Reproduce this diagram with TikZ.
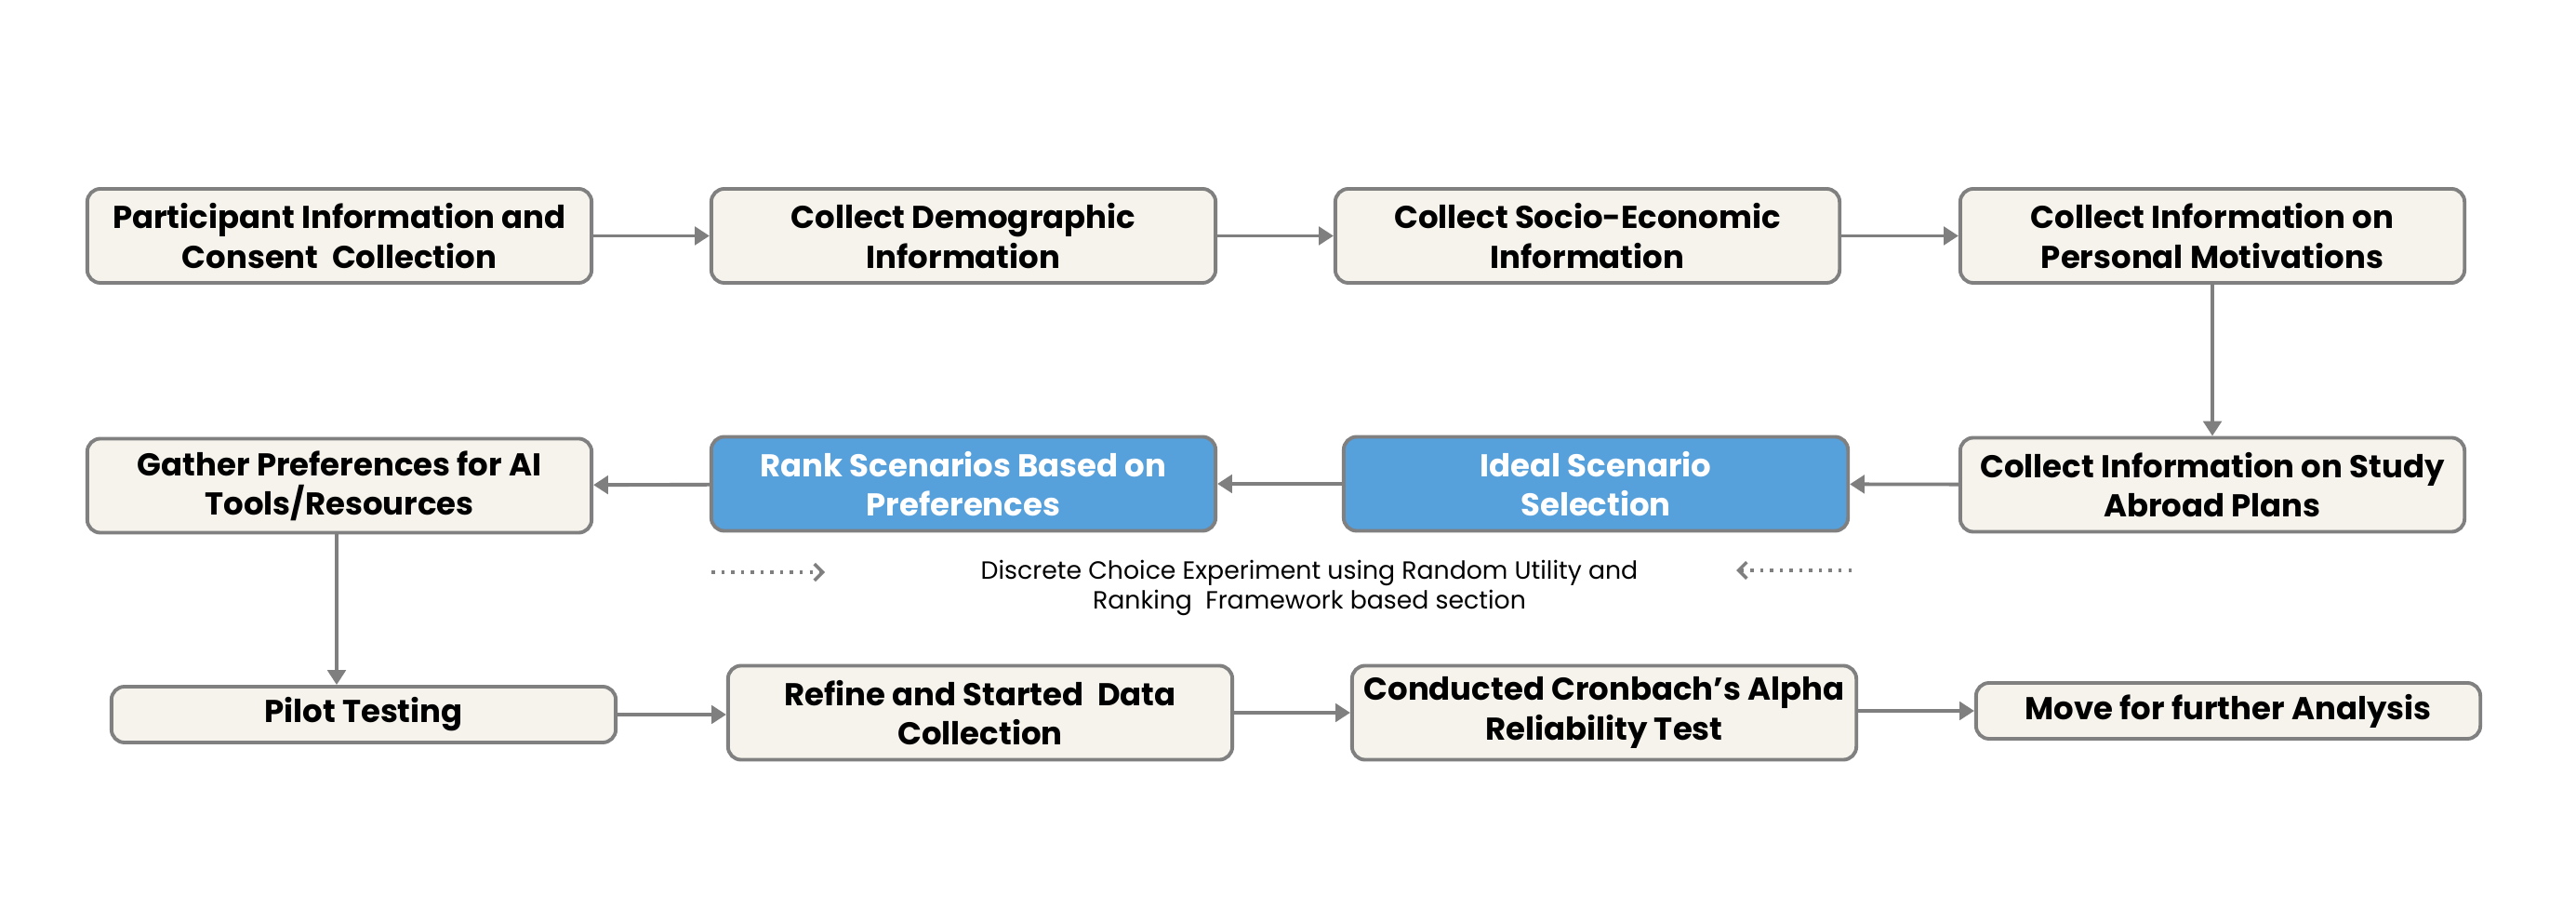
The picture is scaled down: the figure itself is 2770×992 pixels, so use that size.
\documentclass[tikz,border=0pt]{standalone}
\usepackage{fontspec}
\setmainfont{Poppins}
\usetikzlibrary{arrows.meta,positioning}
\definecolor{boxfill}{HTML}{F5F3EC}
\definecolor{boxline}{HTML}{808080}
\definecolor{bluefill}{HTML}{56A0DC}
\definecolor{arrowgray}{HTML}{7F7F7F}
\tikzset{
  stepbox/.style={draw=boxline, fill=boxfill, line width=1.1pt, rounded corners=4pt,
    minimum width=5.42cm, minimum height=1.01cm, align=center, inner sep=2pt,
    font=\fontsize{9.65}{12}\selectfont\bfseries, text=black},
  shortbox/.style={stepbox, minimum height=0.6cm},
  bluebox/.style={stepbox, fill=bluefill, text=white},
  flow/.style={draw=arrowgray, line width=1.1pt, -{Triangle[length=4.5pt,width=5.5pt]}},
  dotflow/.style={draw=arrowgray, line width=1pt, dotted, -{Straight Barb[length=2.5pt,width=5pt]}},
  note/.style={font=\fontsize{7.6}{9.2}\selectfont, align=center, text=black}
}
\begin{document}
\begin{tikzpicture}[x=0.01cm,y=-0.01cm]
\useasboundingbox[fill=white] (0,0) rectangle (2770,992);
% row 1
\node[stepbox] (b1) at (365,253.5) {Participant Information and\\Consent\ \ Collection};
\node[stepbox] (b2) at (1036,253.5) {Collect Demographic\\Information};
\node[stepbox] (b3) at (1707,253.5) {Collect Socio-Economic\\Information};
\node[stepbox] (b4) at (2379,253.5) {Collect Information on\\Personal Motivations};
% row 2
\node[stepbox] (b5) at (2379,521) {Collect Information on Study\\Abroad Plans};
\node[bluebox] (b8) at (1716,520) {Ideal Scenario\\Selection};
\node[bluebox] (b7) at (1036,520) {Rank Scenarios Based on\\Preferences};
\node[stepbox] (b6) at (365,522) {Gather Preferences for AI\\Tools/Resources};
% row 3
\node[shortbox] (p1) at (391,768) {Pilot Testing};
\node[stepbox] (p2) at (1054,766) {Refine and Started\ \ Data\\Collection};
\node[stepbox] (p3) at (1725,766) {Conducted Cronbach’s Alpha\\Reliability Test};
\node[shortbox] (p4) at (2396,764) {Move for further Analysis};
% note
\node[note] (n1) at (1408,632) {Discrete Choice Experiment using Random Utility and\\Ranking\ \ Framework based section};
\coordinate (dl1) at (765,615);
\coordinate (dl2) at (887,615);
\coordinate (dr1) at (1991,613);
\coordinate (dr2) at (1867,613);
% connectors
\draw[flow] (b1) -- (b2);
\draw[flow] (b2) -- (b3);
\draw[flow] (b3) -- (b4);
\draw[flow] (b4) -- (b5);
\draw[flow] (b5) -- (b8);
\draw[flow] (b8) -- (b7);
\draw[flow] (b7) -- (b6);
\draw[flow] (b6.south -| 362,0) -- (p1.north -| 362,0);
\draw[flow] (p1.east) -- (p1.east -| p2.west);
\draw[flow] (p2) -- (p3);
\draw[flow] (p3.east |- p4) -- (p4.west);
\draw[dotflow] (dl1) -- (dl2);
\draw[dotflow] (dr1) -- (dr2);
\end{tikzpicture}
\end{document}
